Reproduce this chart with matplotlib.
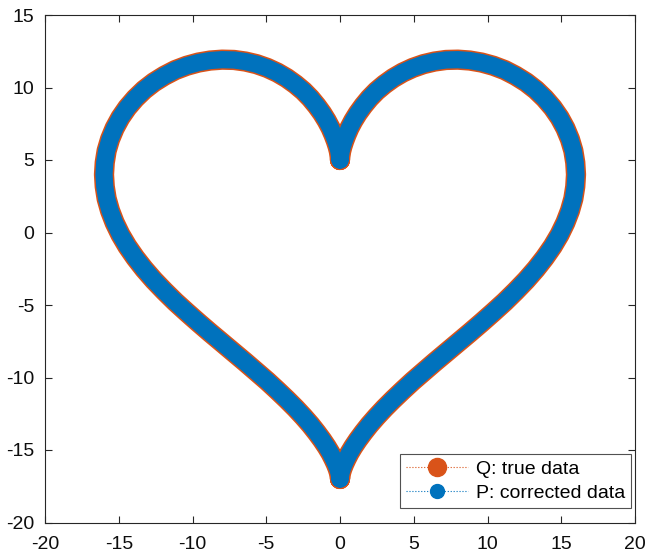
import matplotlib
matplotlib.use("Agg")
import matplotlib.pyplot as plt
from matplotlib.lines import Line2D

# heart outline
# right half: from the top notch (0, 5) down to the bottom tip (0, -17)
x_right = [0, 0.00, 0.01, 0.04, 0.08, 0.16, 0.28, 0.44, 0.64, 0.90, 1.21, 1.58, 2.00,
           2.48, 3.02, 3.61, 4.25, 4.93, 5.66, 6.41, 7.19, 7.99, 8.80, 9.60, 10.39,
           11.17, 11.91, 12.62, 13.28, 13.88, 14.42, 14.89, 15.28, 15.59, 15.82, 15.95,
           16.00, 15.95, 15.82, 15.59, 15.28, 14.89, 14.42, 13.88, 13.28, 12.62, 11.91,
           11.17, 10.39, 9.60, 8.80, 7.99, 7.19, 6.41, 5.66, 4.93, 4.25, 3.61, 3.02,
           2.48, 2.00, 1.58, 1.21, 0.90, 0.64, 0.44, 0.28, 0.16, 0.08, 0.04, 0.01, 0.00, 0]
y_right = [5.00, 5.04, 5.16, 5.35, 5.61, 5.93, 6.31, 6.74, 7.21, 7.71, 8.22, 8.74, 9.26,
           9.76, 10.22, 10.65, 11.03, 11.35, 11.61, 11.79, 11.90, 11.92, 11.86, 11.72,
           11.50, 11.20, 10.81, 10.36, 9.84, 9.25, 8.61, 7.92, 7.19, 6.43, 5.64, 4.82,
           4.00, 3.17, 2.33, 1.50, 0.68, -0.14, -0.95, -1.74, -2.52, -3.29, -4.04, -4.78,
           -5.50, -6.21, -6.91, -7.60, -8.28, -8.95, -9.61, -10.25, -10.89, -11.51,
           -12.11, -12.70, -13.26, -13.80, -14.31, -14.78, -15.22, -15.62, -15.97,
           -16.28, -16.54, -16.74, -16.88, -16.97, -17.00]
# left half: from the bottom tip back up to the top notch
x_left = [-0.00, -0.01, -0.04, -0.08, -0.16, -0.28, -0.44, -0.64, -0.90, -1.21, -1.58,
          -2.00, -2.48, -3.02, -3.61, -4.25, -4.93, -5.66, -6.41, -7.19, -7.99, -8.80,
          -9.60, -10.39, -11.17, -11.91, -12.62, -13.28, -13.88, -14.42, -14.89, -15.28,
          -15.59, -15.82, -15.95, -16.00, -15.95, -15.82, -15.59, -15.28, -14.89,
          -14.42, -13.88, -13.28, -12.62, -11.91, -11.17, -10.39, -9.60, -8.80, -7.99,
          -7.19, -6.41, -5.66, -4.93, -4.25, -3.61, -3.02, -2.48, -2.00, -1.58, -1.21,
          -0.90, -0.64, -0.44, -0.28, -0.16, -0.08, -0.04, -0.01, -0.00, 0]
y_left = [-16.97, -16.88, -16.74, -16.54, -16.28, -15.97, -15.62, -15.22, -14.78,
          -14.31, -13.80, -13.26, -12.70, -12.11, -11.51, -10.89, -10.25, -9.61, -8.95,
          -8.28, -7.60, -6.91, -6.21, -5.50, -4.78, -4.04, -3.29, -2.52, -1.74, -0.95,
          -0.14, 0.68, 1.50, 2.33, 3.17, 4.00, 4.82, 5.64, 6.43, 7.19, 7.92, 8.61, 9.25,
          9.84, 10.36, 10.81, 11.20, 11.50, 11.72, 11.86, 11.92, 11.90, 11.79, 11.61,
          11.35, 11.03, 10.65, 10.22, 9.76, 9.26, 8.74, 8.22, 7.71, 7.21, 6.74, 6.31,
          5.93, 5.61, 5.35, 5.16, 5.04, 5.00]

x_true = x_right + x_left
y_true = y_right + y_left
# corrected data lies right on top of the true data
x_corr = list(x_true)
y_corr = list(y_true)

ORANGE = "#D95319"
BLUE = "#0072BD"
AXCOL = "#262626"

plt.rcParams["font.family"] = ["Liberation Sans", "DejaVu Sans"]
plt.rcParams["axes.unicode_minus"] = False

fig = plt.figure(figsize=(6.47, 5.58), dpi=100)
ax = fig.add_axes([45 / 647, 1 - 522.5 / 558, 590 / 647, 507.5 / 558])

ax.plot(x_true, y_true, color=ORANGE, lw=14.6, solid_capstyle="round",
        solid_joinstyle="round")
ax.plot(x_corr, y_corr, color=BLUE, lw=12.4, solid_capstyle="round",
        solid_joinstyle="round")

ax.set_xlim(-20, 20)
ax.set_ylim(-20, 15)
ax.set_xticks(range(-20, 21, 5))
ax.set_yticks(range(-20, 16, 5))
ax.tick_params(direction="in", top=True, right=True, length=5, width=0.8,
               color=AXCOL, labelsize=14, labelcolor="#0d0d0d")
ax.tick_params(axis="x", pad=9.5)
ax.tick_params(axis="y", pad=7.5)
for s in ax.spines.values():
    s.set_color(AXCOL)
    s.set_linewidth(0.8)

handles = [
    Line2D([], [], color=ORANGE, ls=":", lw=0.8, marker="o", ms=13,
           markerfacecolor=ORANGE, markeredgecolor=ORANGE),
    Line2D([], [], color=BLUE, ls=":", lw=0.8, marker="o", ms=10,
           markerfacecolor=BLUE, markeredgecolor=BLUE),
]
leg = ax.legend(handles, ["Q: true data", "P: corrected data"], loc="lower right",
                bbox_to_anchor=(0.9932, 0.0286), borderaxespad=0,
                fontsize=14, frameon=True, fancybox=False, edgecolor=AXCOL,
                handlelength=3.2, handletextpad=0.4, borderpad=0.3,
                labelspacing=0.35)
leg.get_frame().set_linewidth(0.8)

fig.savefig("out.png", dpi=100)
